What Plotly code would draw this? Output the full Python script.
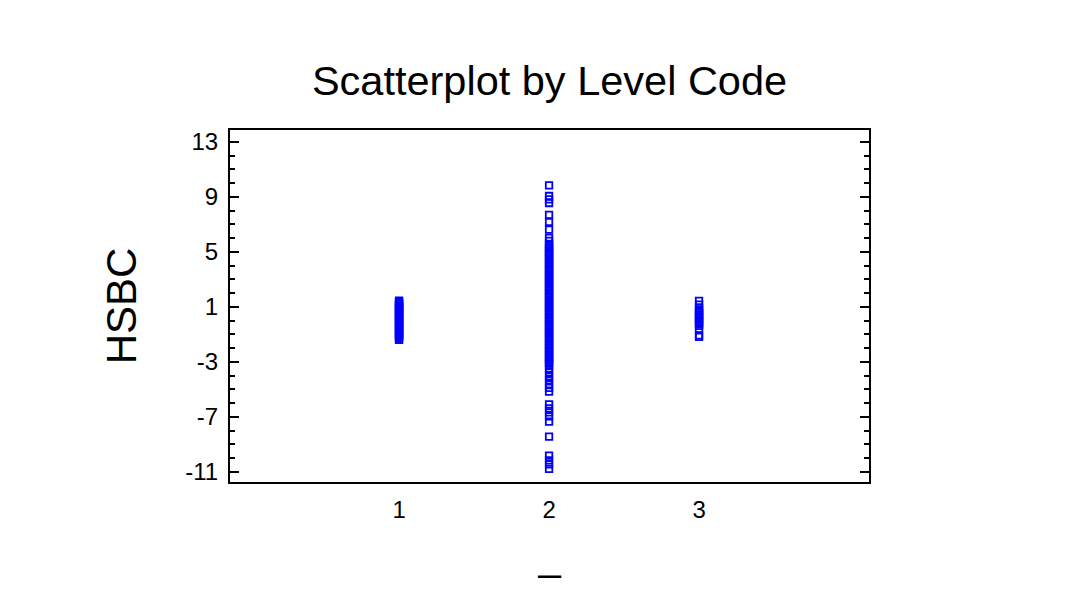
import plotly.graph_objects as go

# HSBC values, per level code
level1_hsbc = [1.45, 1.38, 1.3, 1.21, 1.12, 1.05, 0.96, 0.88, 0.79, 0.71, 0.62, 0.55,
               0.47, 0.38, 0.3, 0.22, 0.13, 0.05, -0.04, -0.12, -0.21, -0.29, -0.37,
               -0.46, -0.55, -0.63, -0.72, -0.8, -0.89, -0.97, -1.06, -1.14, -1.23,
               -1.31, -1.39]
level2_hsbc = [9.84, 9.07, 8.82, 8.56, 7.69, 7.18, 6.62, 6.02, 5.8, 5.58,
               5.45, 5.31, 5.2, 5.06, 4.93, 4.81, 4.7, 4.56, 4.44, 4.3, 4.19, 4.05,
               3.92, 3.8, 3.67, 3.55, 3.42, 3.3, 3.16, 3.05, 2.91, 2.79, 2.66, 2.54,
               2.41, 2.28, 2.16, 2.03, 1.91, 1.78, 1.66, 1.53, 1.41, 1.28, 1.15, 1.03,
               0.9, 0.78, 0.65, 0.53, 0.4, 0.27, 0.15, 0.02, -0.1, -0.23, -0.35, -0.48,
               -0.6, -0.73, -0.86, -0.98, -1.11, -1.23, -1.36, -1.48, -1.61, -1.74,
               -1.86, -1.99, -2.11, -2.24, -2.36, -2.49, -2.62, -2.74, -2.87, -2.99,
               -3.12, -3.22,
               -3.46, -3.75, -4.04, -4.33, -4.62, -4.89, -5.16, -6.08, -6.37, -6.66,
               -6.95, -7.34, -8.43, -9.81, -10.15, -10.44, -10.78]
level3_hsbc = [1.44, 1.17, 0.91, 0.78, 0.66, 0.55, 0.43, 0.31, 0.2, 0.08, -0.04,
               -0.15, -0.27, -0.38, -0.62, -1.06, -1.18]

level_codes = [1, 2, 3]
x_tick_labels = ["1", "2", "3"]
y_tick_vals = [-11, -7, -3, 1, 5, 9, 13]
y_tick_labels = ["-11", "-7", "-3", "1", "5", "9", "13"]

xs, ys = [], []
for code, vals in zip(level_codes, [level1_hsbc, level2_hsbc, level3_hsbc]):
    xs += [code] * len(vals)
    ys += vals

FONT = "Arial, Liberation Sans, sans-serif"

fig = go.Figure()
fig.add_trace(go.Scatter(
    x=xs, y=ys, mode="markers",
    marker=dict(symbol="square-open", size=6.5, color="#0000ff",
                line=dict(color="#0000ff", width=1.8)),
    showlegend=False, hoverinfo="x+y",
))

fig.update_layout(
    width=1086, height=601,
    margin=dict(l=230, r=217, t=130, b=119),
    paper_bgcolor="white", plot_bgcolor="white",
    font=dict(family=FONT, color="black"),
    title=dict(text="Scatterplot by Level Code", x=(230 + 869) / 2 / 1086,
               xanchor="center", y=1 - 80 / 601, yanchor="middle",
               font=dict(size=41.5, family=FONT, color="black")),
)
fig.update_xaxes(
    range=[-0.127, 4.133], tickvals=level_codes, ticktext=x_tick_labels,
    ticks="", showgrid=False, zeroline=False,
    showline=True, linecolor="black", linewidth=2, mirror=True,
    tickfont=dict(size=24), ticklabelstandoff=5,
    title=dict(text="_", font=dict(size=40), standoff=20),
)
fig.update_yaxes(
    range=[-11.73, 13.87], tickvals=y_tick_vals, ticktext=y_tick_labels,
    ticks="inside", ticklen=9, tickwidth=2, tickcolor="black",
    minor=dict(dtick=1, tick0=13, ticks="inside", ticklen=5, tickwidth=2,
               tickcolor="black", showgrid=False),
    showgrid=False, zeroline=False,
    showline=True, linecolor="black", linewidth=2, mirror="allticks",
    tickfont=dict(size=24), ticklabelstandoff=5,
    title=dict(text="HSBC", font=dict(size=42), standoff=36),
)

fig.write_html("out.html")
